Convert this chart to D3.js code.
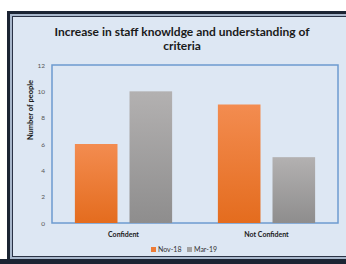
<!DOCTYPE html>
<html>
<head>
<meta charset="utf-8">
<script src="https://cdn.jsdelivr.net/npm/d3@7"></script>
<style>
  body { margin: 0; background: #fff; }
  svg { display: block; font-family: Lato, "Liberation Sans", sans-serif; }
</style>
</head>
<body>
<div id="chart"></div>
<script>
// data
const categories = ["Confident", "Not Confident"];
const seriesNames = ["Nov-18", "Mar-19"];
const nov18 = [6, 9];
const mar19 = [10, 5];
const yTicks = [0, 2, 4, 6, 8, 10, 12];

const width = 346, height = 264;
const margin = { top: 65, right: 8, bottom: 41, left: 52 };

const svg = d3.select("#chart").append("svg")
  .attr("width", width)
  .attr("height", height);

// gradients for bars
const defs = svg.append("defs");
const grads = [
  { id: "gOrange", top: "#f38c50", bottom: "#e46c1e" },
  { id: "gGray", top: "#b3b1b1", bottom: "#8e8d8d" }
];
grads.forEach(g => {
  const lg = defs.append("linearGradient").attr("id", g.id)
    .attr("x1", 0).attr("y1", 0).attr("x2", 0).attr("y2", 1);
  lg.append("stop").attr("offset", "0%").attr("stop-color", g.top);
  lg.append("stop").attr("offset", "100%").attr("stop-color", g.bottom);
});

// frame
svg.append("rect").attr("x", 8.5).attr("y", 12.5).attr("width", 350).attr("height", 249)
  .attr("fill", "#dde7f3").attr("stroke", "#1b2433").attr("stroke-width", 3);
svg.append("rect").attr("x", 11).attr("y", 15).attr("width", 350).attr("height", 243)
  .attr("fill", "none").attr("stroke", "#a8b7cb").attr("stroke-width", 2);
svg.append("rect").attr("x", 12.5).attr("y", 16.5).attr("width", 350).attr("height", 240)
  .attr("fill", "none").attr("stroke", "#2a3346").attr("stroke-width", 1);
svg.append("rect").attr("x", 0).attr("y", 259).attr("width", width).attr("height", 5)
  .attr("fill", "#1b2433");

// title
const titleLines = ["Increase in staff knowldge and understanding of", "criteria"];
svg.selectAll(".title")
  .data(titleLines)
  .enter().append("text")
  .attr("class", "title")
  .attr("x", 182).attr("y", (d, i) => 36 + i * 14)
  .attr("text-anchor", "middle")
  .attr("font-size", "12px").attr("font-weight", "bold").attr("fill", "#1a1a1a")
  .text(d => d);

// scales
const x0 = d3.scaleBand()
  .domain(categories)
  .range([margin.left, width - margin.right])
  .paddingInner(0.32)
  .paddingOuter(0.16);

const x1 = d3.scaleBand()
  .domain(seriesNames)
  .range([0, x0.bandwidth()])
  .paddingInner(0.22)
  .paddingOuter(0);

const y = d3.scaleLinear()
  .domain([0, 12])
  .range([height - margin.bottom, margin.top]);

// plot area
svg.append("rect")
  .attr("x", margin.left).attr("y", margin.top)
  .attr("width", width - margin.right - margin.left)
  .attr("height", height - margin.bottom - margin.top)
  .attr("fill", "none").attr("stroke", "#6c9bd0").attr("stroke-width", 1.5);

// y axis
const yAxis = svg.append("g")
  .attr("transform", `translate(${margin.left},0)`)
  .call(d3.axisLeft(y).tickValues(yTicks).tickSize(0).tickPadding(7));
yAxis.select(".domain").remove();
yAxis.selectAll("text").attr("font-size", "6.5px").attr("fill", "#555").attr("font-family", "Lato, sans-serif");

svg.append("text")
  .attr("transform", "rotate(-90)")
  .attr("x", -110).attr("y", 33)
  .attr("text-anchor", "middle")
  .attr("font-size", "7.5px").attr("font-weight", "bold").attr("fill", "#1a1a1a")
  .text("Number of people");

// bars
const rows = categories.map((c, i) => ({ cat: c, values: [nov18[i], mar19[i]] }));
const fills = ["url(#gOrange)", "url(#gGray)"];

const groups = svg.selectAll(".grp")
  .data(rows)
  .enter().append("g")
  .attr("class", "grp")
  .attr("transform", d => `translate(${x0(d.cat)},0)`);

groups.selectAll("rect")
  .data(d => d.values.map((v, j) => ({ key: seriesNames[j], v: v, j: j })))
  .enter().append("rect")
  .attr("x", d => x1(d.key))
  .attr("y", d => y(d.v))
  .attr("width", x1.bandwidth())
  .attr("height", d => y(0) - y(d.v))
  .attr("fill", d => fills[d.j]);

// category labels
svg.selectAll(".cat")
  .data(categories)
  .enter().append("text")
  .attr("class", "cat")
  .attr("x", d => x0(d) + x0.bandwidth() / 2)
  .attr("y", 237)
  .attr("text-anchor", "middle")
  .attr("font-size", "7px").attr("font-weight", "bold").attr("fill", "#1a1a1a")
  .text(d => d);

// legend
const legendColors = ["#ee7b35", "#a3a2a2"];
const legendX = [151, 187];
const legend = svg.selectAll(".leg")
  .data(seriesNames)
  .enter().append("g")
  .attr("class", "leg")
  .attr("transform", (d, i) => `translate(${legendX[i]},247)`);
legend.append("rect").attr("width", 5).attr("height", 5)
  .attr("fill", (d, i) => legendColors[i]);
legend.append("text")
  .attr("x", 7).attr("y", 5)
  .attr("font-size", "7px").attr("fill", "#333")
  .text(d => d);
</script>
</body>
</html>
